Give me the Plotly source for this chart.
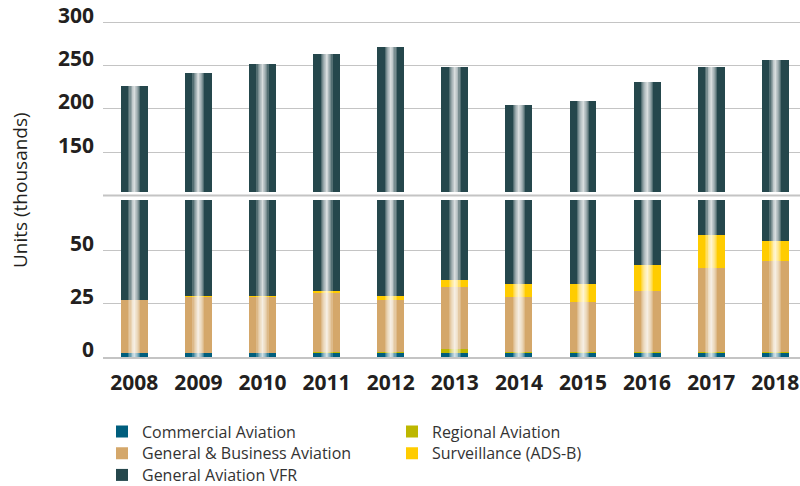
import plotly.graph_objects as go
import numpy as np

years = ["2008", "2009", "2010", "2011", "2012", "2013", "2014", "2015", "2016", "2017", "2018"]
commercial = [1.8, 1.8, 1.8, 1.8, 1.8, 1.8, 1.8, 1.8, 1.8, 1.8, 1.8]
regional = [0.0, 0.0, 0.0, 0.5, 0.5, 1.9, 0.5, 0.5, 0.5, 0.5, 0.5]
general_business = [25.2, 26.6, 26.6, 27.9, 24.7, 29.0, 26.1, 23.7, 28.8, 39.6, 42.9]
surveillance = [0.0, 0.5, 0.5, 0.9, 1.8, 3.3, 6.0, 8.4, 12.2, 15.5, 9.4]
ga_vfr = [200.0, 212.1, 222.6, 231.9, 243.2, 212.0, 170.6, 175.1, 187.7, 190.6, 201.4]

series_names = ["Commercial Aviation", "Regional Aviation", "General & Business Aviation",
                "Surveillance (ADS-B)", "General Aviation VFR"]
series_values = [commercial, regional, general_business, surveillance, ga_vfr]
series_colors = ["#005e7d", "#bdb700", "#d4a76a", "#ffcc00", "#25474c"]
series_legends = ["legend", "legend", "legend2", "legend2", "legend3"]

FONT = "Open Sans"
TXT = "#231f20"
GRID = "#c4c4c4"
BAR_W = 0.42

fig = go.Figure()
base = np.zeros(len(years))
for name, vals, color, leg in zip(series_names, series_values, series_colors, series_legends):
    for xa, ya, show in (("x", "y", True), ("x2", "y2", False)):
        fig.add_trace(go.Bar(
            x=years, y=vals, base=base.copy(), width=BAR_W, name=name,
            marker=dict(color=color, line=dict(width=0)),
            legend=leg, showlegend=show, xaxis=xa, yaxis=ya, hoverinfo="skip"))
    base = base + np.array(vals)

totals = base
# white sheen in the middle of each bar
sheen_widths = [0.19, 0.15, 0.115, 0.085, 0.058, 0.031, 0.016]
for w in sheen_widths:
    for xa, ya in (("x", "y"), ("x2", "y2")):
        fig.add_trace(go.Bar(
            x=years, y=totals, base=np.zeros(len(years)), width=w,
            marker=dict(color="rgba(255,255,255,0.22)", line=dict(width=0)),
            showlegend=False, xaxis=xa, yaxis=ya, hoverinfo="skip"))

tickfont = dict(family=FONT, size=21, color=TXT, weight="bold")
fig.update_layout(
    template="none",
    width=800, height=486,
    margin=dict(l=103, r=0, t=20, b=129, autoexpand=False),
    paper_bgcolor="white", plot_bgcolor="white",
    barmode="overlay", bargap=0,
    font=dict(family=FONT, color=TXT),
    xaxis=dict(domain=[0, 1], anchor="y", type="category", range=[-0.488, 10.385],
               showgrid=False, showline=True, linecolor=GRID, linewidth=2,
               ticks="", tickfont=tickfont, ticklabelstandoff=6, automargin=False, fixedrange=True),
    xaxis2=dict(domain=[0, 1], anchor="y2", matches="x", type="category",
                showgrid=False, showline=False, showticklabels=False, ticks="",
                automargin=False, fixedrange=True),
    yaxis=dict(domain=[0, 0.4659], range=[0, 73.8], tickvals=[0, 25, 50],
               showgrid=True, gridcolor=GRID, gridwidth=1, zeroline=False, showline=False,
               ticks="", tickfont=tickfont, ticklabelstandoff=8, ticklabelshift=-7,
               automargin=False, fixedrange=True),
    yaxis2=dict(domain=[0.4896, 1], range=[104.2, 302.65], tickvals=[150, 200, 250, 300],
                showgrid=True, gridcolor=GRID, gridwidth=1, zeroline=False, showline=False,
                ticks="", tickfont=tickfont, ticklabelstandoff=8, ticklabelshift=-7,
                automargin=False, fixedrange=True),
    shapes=[dict(type="line", xref="paper", yref="paper", x0=0, x1=1,
                 y0=0.4792, y1=0.4792, line=dict(color=GRID, width=2))],
    annotations=[dict(text="Units (thousands)", xref="paper", yref="paper",
                      x=-0.119, xanchor="center", y=0.4955, yanchor="middle",
                      textangle=-90, showarrow=False,
                      font=dict(family=FONT, size=19, color=TXT))],
)
legend_common = dict(orientation="h", entrywidth=245, entrywidthmode="pixels",
                     xref="container", yref="container",
                     xanchor="left", yanchor="middle", x=0.1275,
                     font=dict(family=FONT, size=16, color="#333333"),
                     bgcolor="rgba(0,0,0,0)", borderwidth=0, traceorder="normal")
fig.update_layout(
    legend=dict(legend_common, y=0.1117),
    legend2=dict(legend_common, y=0.0673),
    legend3=dict(legend_common, y=0.0226),
)

fig.write_html("out.html",
               config=dict(displayModeBar=False, staticPlot=True),
               post_script="document.body.style.margin='0';document.body.style.overflow='hidden';")
